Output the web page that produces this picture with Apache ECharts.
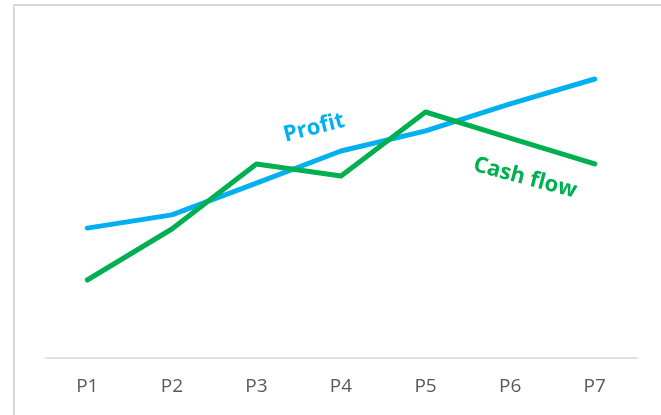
<!DOCTYPE html>
<html>
<head>
<meta charset="utf-8">
<script src="https://cdn.jsdelivr.net/npm/echarts@6/dist/echarts.min.js"></script>
<style>
  html, body { margin: 0; padding: 0; background: #fff; }
  #wrap { position: relative; width: 661px; height: 415px; overflow: hidden; }
  .frame {
    position: absolute; left: 13px; top: 4px; width: 700px; height: 460px;
    border-left: 2px solid #d9d9d9; border-top: 2px solid #d9d9d9;
  }
  #chart { position: absolute; left: 0; top: 0; width: 661px; height: 415px; }
</style>
</head>
<body>
<div id="wrap">
  <div class="frame"></div>
  <div id="chart"></div>
</div>
<script>
const categories = ['P1', 'P2', 'P3', 'P4', 'P5', 'P6', 'P7']
const profit = [4.33, 4.77, 5.83, 6.9, 7.57, 8.47, 9.3]
const cashFlow = [2.6, 4.3, 6.47, 6.07, 8.2, 7.33, 6.47]

const blue = '#00b0f0'
const green = '#00b050'

const chart = echarts.init(document.getElementById('chart'))

chart.setOption({
  animation: false,
  grid: { left: 45, right: 24, top: 58, bottom: 57 },
  xAxis: {
    type: 'category',
    data: categories,
    boundaryGap: true,
    axisLine: { lineStyle: { color: '#d9d9d9', width: 1.5 } },
    axisTick: { show: false },
    axisLabel: { color: '#595959', fontSize: 19, margin: 19, fontFamily: 'Open Sans' }
  },
  yAxis: {
    type: 'value',
    min: 0,
    max: 10,
    show: false,
    splitLine: { show: false }
  },
  series: [
    {
      name: 'Profit',
      type: 'line',
      data: profit,
      showSymbol: false,
      lineStyle: { color: blue, width: 5, cap: 'round', join: 'round' },
      itemStyle: { color: blue }
    },
    {
      name: 'Cash flow',
      type: 'line',
      data: cashFlow,
      showSymbol: false,
      lineStyle: { color: green, width: 5, cap: 'round', join: 'round' },
      itemStyle: { color: green }
    }
  ],
  graphic: [
    {
      type: 'text',
      x: 314, y: 128,
      rotation: 0.25,
      style: {
        text: 'Profit', fill: blue, fontSize: 22, fontWeight: 'bold',
        fontFamily: 'Open Sans', align: 'center', verticalAlign: 'middle'
      }
    },
    {
      type: 'text',
      x: 525, y: 178,
      rotation: -0.26,
      style: {
        text: 'Cash flow', fill: green, fontSize: 22, fontWeight: 'bold',
        fontFamily: 'Open Sans', align: 'center', verticalAlign: 'middle'
      }
    }
  ]
})
</script>
</body>
</html>
